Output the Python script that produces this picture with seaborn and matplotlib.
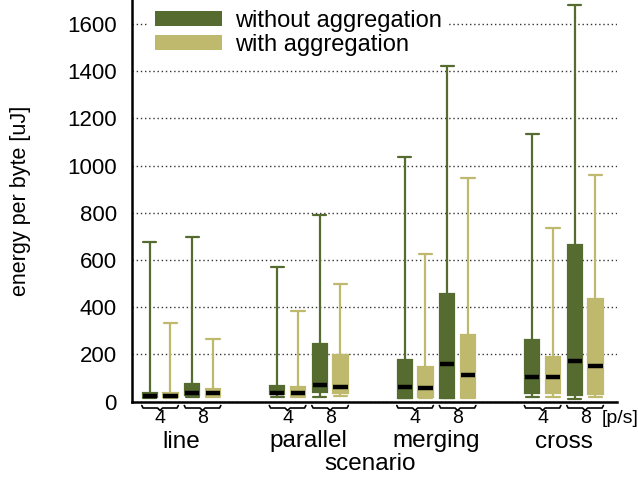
import numpy as np
import pandas as pd
import matplotlib
matplotlib.use("Agg")
import matplotlib.pyplot as plt
from matplotlib.patches import Patch
import seaborn as sns

# --- data ---
scenarios = ["line", "parallel", "merging", "cross"]
rates = ["4", "8"]
series = ["without aggregation", "with aggregation"]

# order: line4, line8, parallel4, parallel8, merging4, merging8, cross4, cross8
wo_min = [15, 18, 18, 18, 14, 14, 20, 11]
wo_q1 = [17, 28, 30, 40, 16, 14, 35, 27]
wo_med = [25, 37, 35, 69, 62, 161, 103, 173]
wo_q3 = [37, 73, 65, 242, 174, 454, 262, 662]
wo_max = [677, 699, 571, 792, 1035, 1422, 1134, 1680]

w_min = [15, 20, 18, 22, 15, 16, 20, 20]
w_q1 = [17, 28, 28, 35, 17, 18, 35, 33]
w_med = [24, 35, 35, 62, 59, 112, 103, 150]
w_q3 = [35, 52, 62, 195, 146, 284, 190, 436]
w_max = [334, 263, 384, 498, 624, 946, 735, 960]

colors = ["#556b2f", "#bfb96e"]

# positions: pairs of rates, wider gap between scenarios
pos = [0, 1, 3, 4, 6, 7, 9, 10]
offset = 0.244

rows = []
stats = [(wo_min, wo_q1, wo_med, wo_q3, wo_max), (w_min, w_q1, w_med, w_q3, w_max)]
for k, s in enumerate(series):
    for i, p in enumerate(pos):
        # five values -> quartiles land exactly on q1/median/q3, whiskers on min/max
        for v in (stats[k][0][i], stats[k][1][i], stats[k][2][i], stats[k][3][i], stats[k][4][i]):
            rows.append({"series": s, "x": p + (2 * k - 1) * offset, "energy": v})
df = pd.DataFrame(rows)

sns.set_style("white")
plt.rcParams["font.family"] = ["Liberation Sans", "DejaVu Sans"]
plt.rcParams.update({"text.color": "black", "axes.labelcolor": "black",
                     "xtick.color": "black", "ytick.color": "black"})

fig = plt.figure(figsize=(6.38, 4.78), dpi=100)
ax = fig.add_axes([132 / 638, 1 - 401.5 / 478, 485 / 638, 401.5 / 478])

for k, s in enumerate(series):
    sns.boxplot(
        data=df[df["series"] == s], x="x", y="energy", orient="x",
        native_scale=True, whis=np.inf, width=0.333, saturation=1,
        color=colors[k], linecolor=colors[k], linewidth=1.6,
        medianprops={"color": "black", "linewidth": 3.2},
        capwidths=0.31, ax=ax,
    )

ax.set_xlim(-0.66, 10.75)
ax.set_ylim(0, 1702)
ax.set_yticks(range(0, 1601, 200))
ax.tick_params(axis="y", length=0, pad=11, labelsize=16)
ax.set_xticks([])
ax.set_xlabel("")
ax.yaxis.grid(True, linestyle=(0, (1, 2)), color="#333333", linewidth=1)
ax.set_axisbelow(True)
for side in ["top", "right"]:
    ax.spines[side].set_visible(False)
for side in ["left", "bottom"]:
    ax.spines[side].set_color("black")
    ax.spines[side].set_linewidth(1.8)

ax.set_ylabel("energy per byte [uJ]", fontsize=15.5)
ax.yaxis.set_label_coords(-0.208, 0.5)

# braces + rate labels + scenario names below the axis
tr = ax.get_xaxis_transform()
px = 1 / 401.5
for j, sc in enumerate(scenarios):
    for r in range(2):
        c = pos[2 * j + r]
        bx = c + np.array([-0.43, -0.40, -0.06, 0, 0.06, 0.40, 0.43])
        by = np.array([-4, -6.5, -6.5, -9, -6.5, -6.5, -4]) * px
        ax.plot(bx, by, color="black", lw=1.2, transform=tr, clip_on=False)
        ax.text(c, -17 * px, rates[r], transform=tr, ha="center", va="center", fontsize=14)
    ax.text((pos[2 * j] + pos[2 * j + 1]) / 2, -40 * px, sc, transform=tr,
            ha="center", va="center", fontsize=17.5)
ax.text(10.38, -17 * px, "[p/s]", transform=tr, ha="left", va="center", fontsize=14)
ax.text(0.49, -62 * px, "scenario", transform=ax.transAxes, ha="center", va="center", fontsize=17.5)

handles = [Patch(facecolor=c, edgecolor="none") for c in colors]
leg = ax.legend(handles, series, loc="upper left", bbox_to_anchor=(0.033, 1 - 3 * px),
                fontsize=17, frameon=True, fancybox=False, framealpha=1,
                facecolor="white", edgecolor="none", borderpad=0.3,
                handlelength=2.85, handleheight=0.6, handletextpad=0.55,
                labelspacing=0.08, borderaxespad=0)

fig.savefig("out.png", dpi=100)
